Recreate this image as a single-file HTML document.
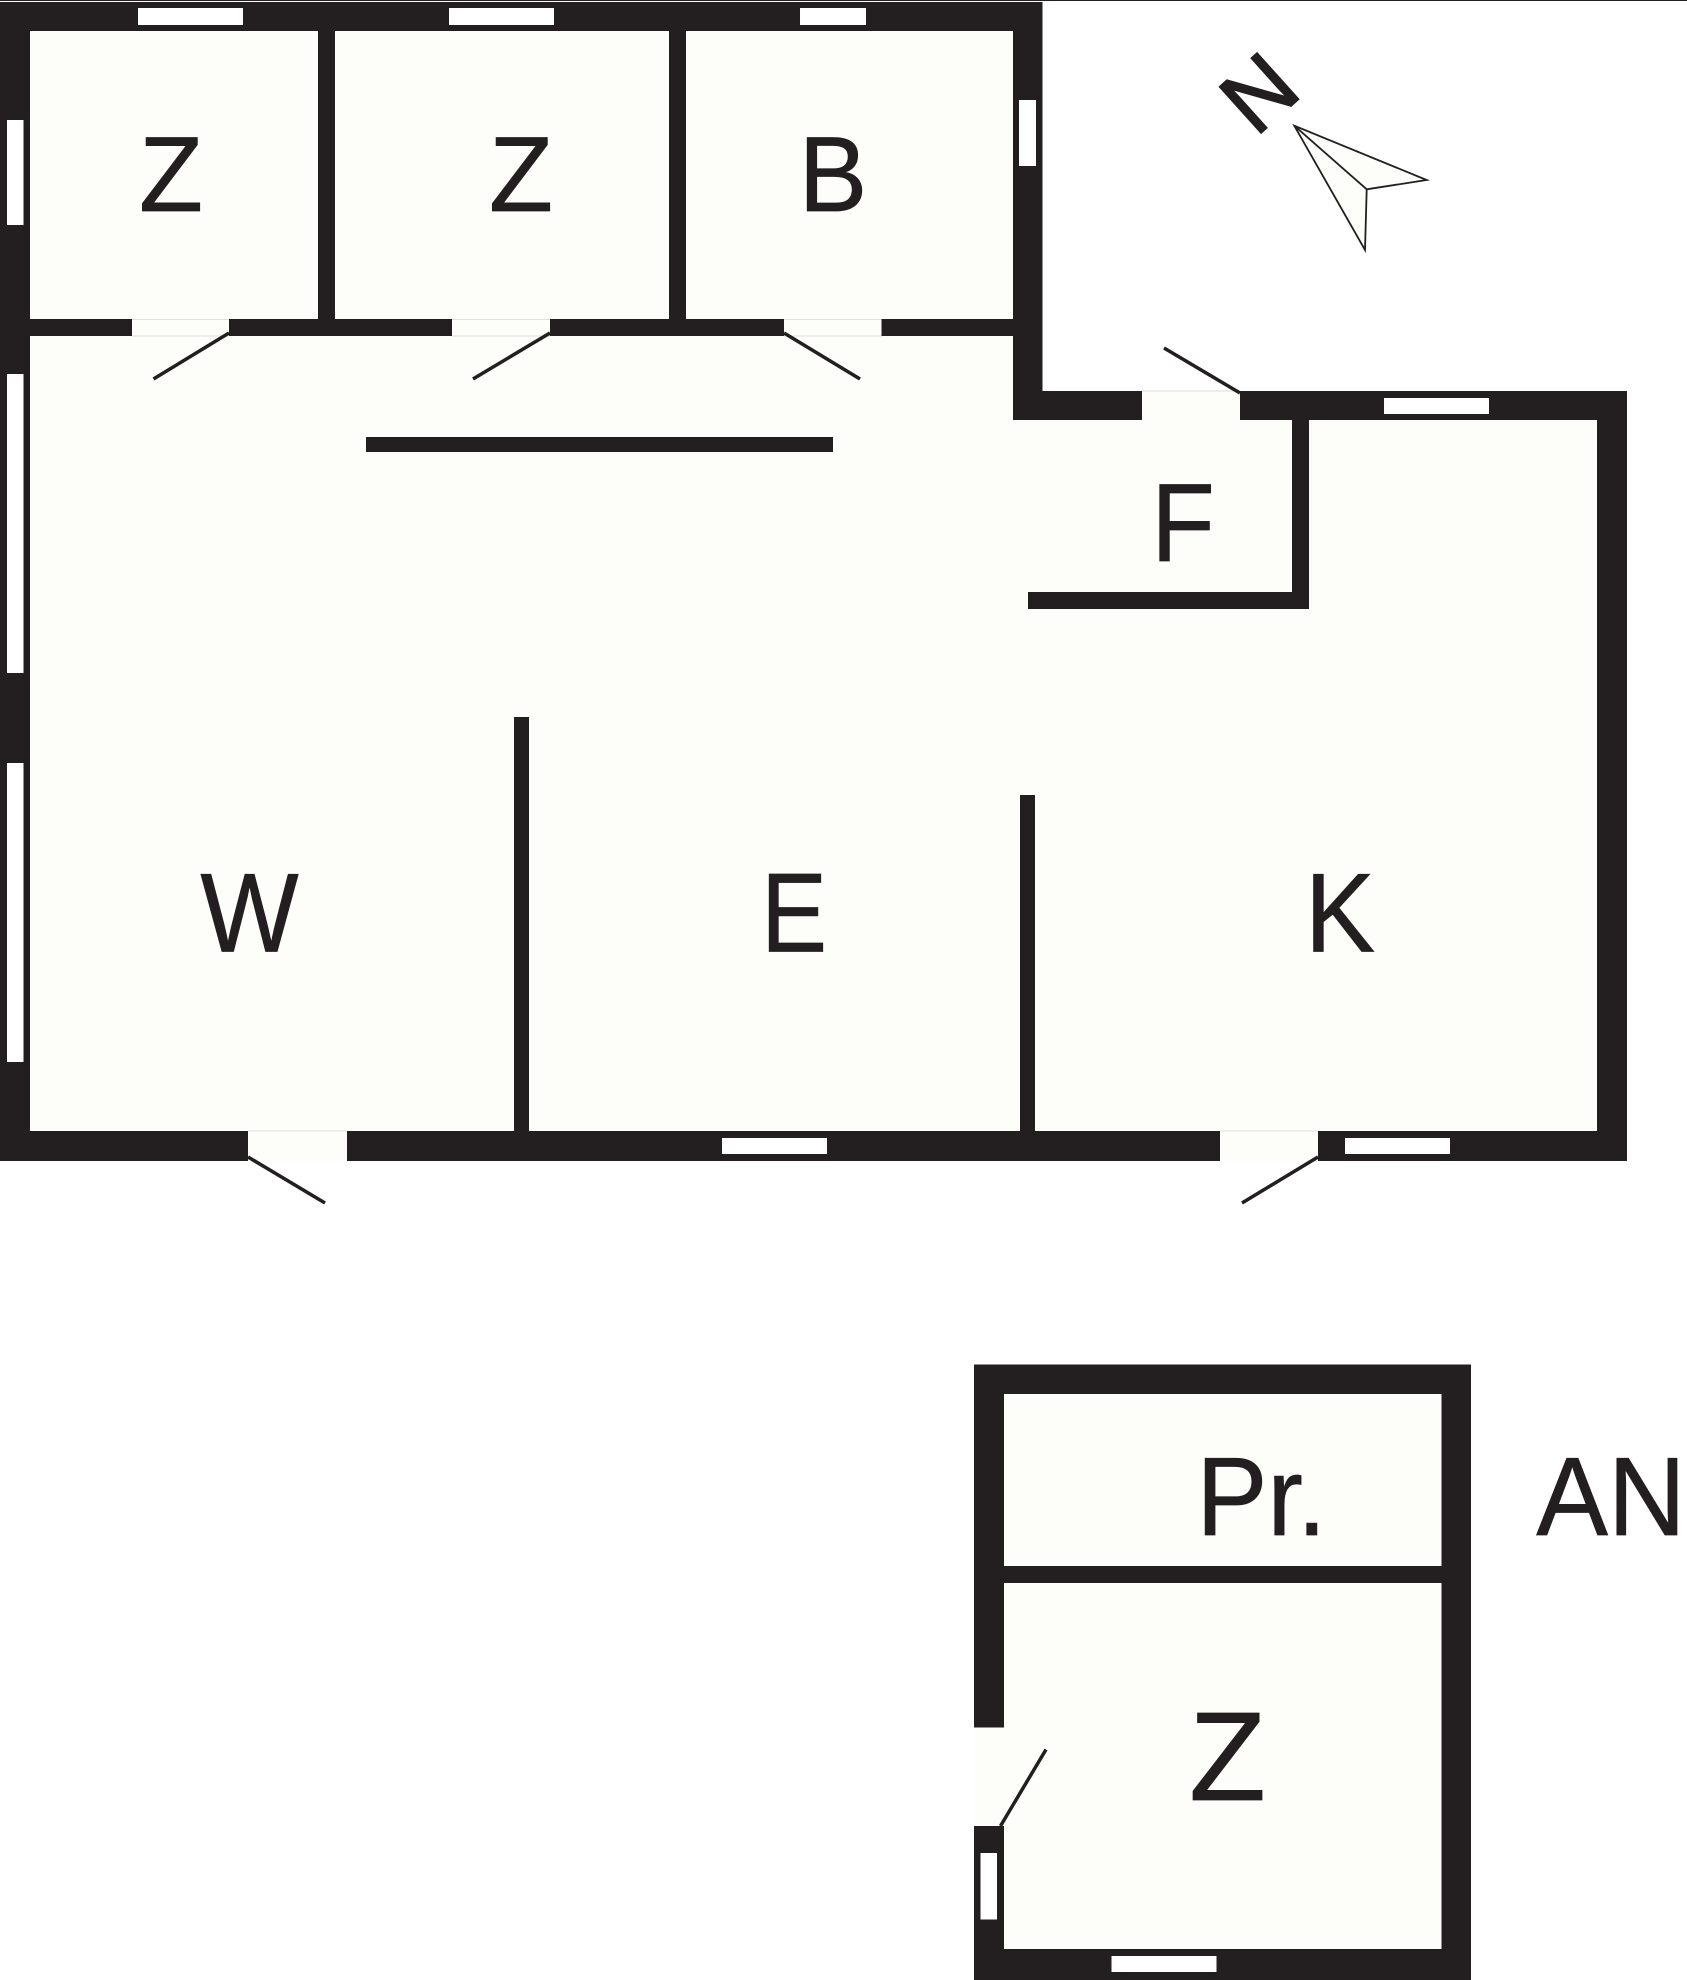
<!DOCTYPE html>
<html><head><meta charset="utf-8"><style>html,body{margin:0;padding:0;background:#fff}svg{display:block}text{font-family:"Liberation Sans",sans-serif;fill:#231f20;stroke:#231f20;stroke-width:.7;text-anchor:middle}</style></head><body>
<svg xmlns="http://www.w3.org/2000/svg" width="1687" height="1980" viewBox="0 0 1687 1980">
<rect width="1687" height="1980" fill="#fff"/>
<rect x="0" y="0" width="1687" height="1" fill="#231f20"/>
<polygon points="0,2 1042.500,2 1042.500,391 1627,391 1627,1161 0,1161" fill="#231f20"/>
<polygon points="30,31 1013,31 1013,420 1597,420 1597,1131 30,1131" fill="#fdfef9"/>
<g fill="#231f20">
<rect x="30" y="319" width="983" height="17"/>
<rect x="318" y="31" width="17" height="288"/>
<rect x="669" y="31" width="17" height="288"/>
<rect x="366" y="437" width="467" height="15"/>
<rect x="1292" y="420" width="17" height="189"/>
<rect x="1028" y="592" width="281" height="17"/>
<rect x="514" y="717" width="15" height="414"/>
<rect x="1020" y="795" width="15" height="336"/>
</g>
<g fill="#fdfef9">
<rect x="132" y="319" width="97" height="17"/>
<rect x="452" y="319" width="98" height="17"/>
<rect x="784" y="319" width="97.500" height="17"/>
<rect x="1142" y="391" width="98" height="29"/>
<rect x="248" y="1131" width="99" height="30"/>
<rect x="1220" y="1131" width="98" height="30"/>
</g>
<g fill="#dedfdb">
<rect x="132" y="319" width="97" height="1"/>
<rect x="132" y="335.500" width="97" height="1"/>
<rect x="452" y="319" width="98" height="1"/>
<rect x="452" y="335.500" width="98" height="1"/>
<rect x="784" y="319" width="97.500" height="1"/>
<rect x="784" y="335.500" width="97.500" height="1"/>
<rect x="1142" y="390.500" width="98" height="1"/>
<rect x="248" y="1130.500" width="99" height="1"/>
<rect x="1220" y="1130.500" width="98" height="1"/>
</g>
<g fill="#fff">
<rect x="138" y="8" width="105" height="17"/>
<rect x="449" y="8" width="105" height="17"/>
<rect x="800" y="8" width="66" height="17"/>
<rect x="7" y="120" width="16.500" height="105"/>
<rect x="7" y="374" width="16.500" height="299"/>
<rect x="7" y="763" width="16.500" height="299"/>
<rect x="1019" y="100" width="17" height="66"/>
<rect x="1384" y="398" width="105" height="16"/>
<rect x="722" y="1138" width="105" height="16"/>
<rect x="1345" y="1138" width="105" height="16"/>
</g>
<g stroke="#231f20" stroke-width="3.500" fill="none">
<line x1="229" y1="333" x2="153.500" y2="379"/>
<line x1="550" y1="333" x2="473" y2="379"/>
<line x1="784" y1="333" x2="860" y2="379"/>
<line x1="1240" y1="393" x2="1164" y2="348"/>
<line x1="248" y1="1157" x2="325" y2="1203"/>
<line x1="1318" y1="1157" x2="1242" y2="1203"/>
</g>
<polygon points="974,1364.500 1471,1364.500 1471,1980 974,1980" fill="#231f20"/>
<rect x="1004" y="1394" width="437.500" height="172" fill="#fdfef9"/>
<rect x="1004" y="1583" width="437.500" height="366" fill="#fdfef9"/>
<rect x="974" y="1727.500" width="30" height="98.500" fill="#fdfef9"/>
<rect x="980.500" y="1853" width="16.500" height="66.500" fill="#fff"/>
<rect x="1111.500" y="1956" width="105" height="16" fill="#fff"/>
<line x1="1000.500" y1="1826" x2="1046" y2="1749.500" stroke="#231f20" stroke-width="3.500"/>
<polygon points="1294.300,125.700 1426.700,180 1366.700,189.300 1365,250" fill="#fdfef9" stroke="#231f20" stroke-width="1.800" stroke-linejoin="miter"/>
<line x1="1294.300" y1="125.700" x2="1366.700" y2="189.300" stroke="#231f20" stroke-width="1.800"/>
<text transform="translate(171,211) scale(.98,1)" font-size="107">Z</text>
<text transform="translate(521,211) scale(.98,1)" font-size="107">Z</text>
<text transform="translate(833,211) scale(.96,1)" font-size="107">B</text>
<text transform="translate(1183,561) scale(.94,1)" font-size="111">F</text>
<text transform="translate(249.500,951.500) scale(.93,1)" font-size="112">W</text>
<text transform="translate(794,951.500) scale(.885,1)" font-size="112">E</text>
<text transform="translate(1340,951.500) scale(.94,1)" font-size="112">K</text>
<text transform="translate(1261.500,1535) scale(.96,1)" font-size="111">Pr.</text>
<text transform="translate(1611,1535) scale(.97,1)" font-size="111">AN</text>
<text transform="translate(1227.500,1800)" font-size="126">Z</text>
<text transform="translate(1259,93) rotate(-42)" x="0" y="31" font-size="90" style="stroke-width:1.800">N</text>
</svg>
</body></html>
